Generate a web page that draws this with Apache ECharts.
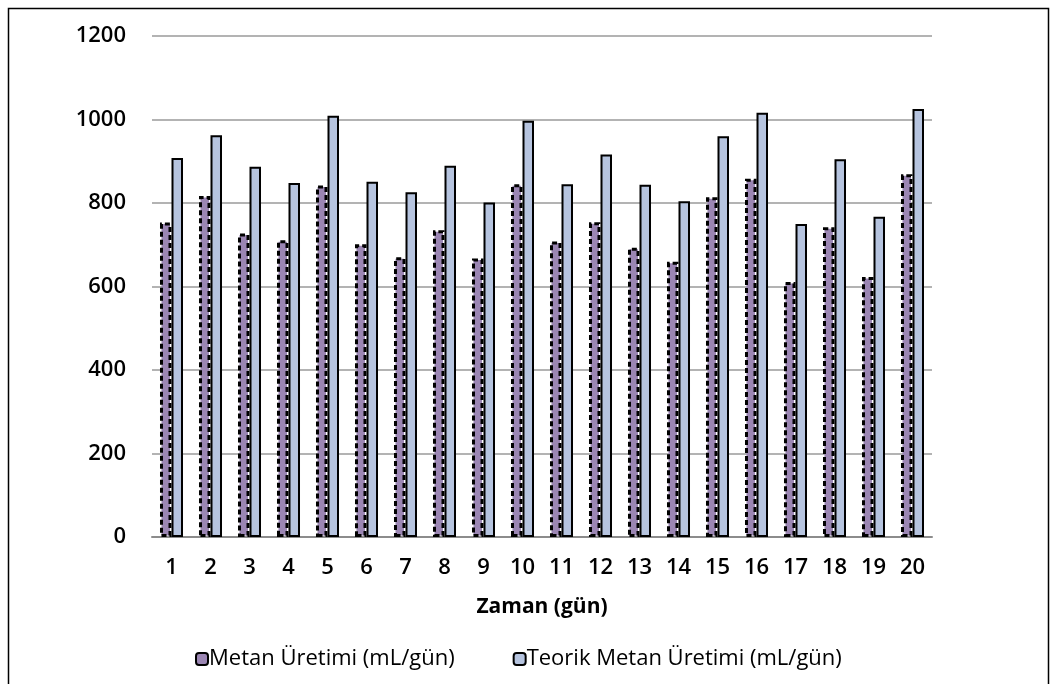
<!DOCTYPE html>
<html>
<head>
<meta charset="utf-8">
<script src="https://cdn.jsdelivr.net/npm/echarts@6/dist/echarts.min.js"></script>
<style>
  html, body { margin: 0; padding: 0; background: #fff; }
  #chart { width: 1057px; height: 684px; }
</style>
</head>
<body>
<div id="chart"></div>
<script>
// Daily methane production vs. theoretical production (mL/gün)
const days = ['1','2','3','4','5','6','7','8','9','10','11','12','13','14','15','16','17','18','19','20'];
const metanUretimi = [753, 817, 727, 711, 842, 701, 670, 735, 667, 845, 708, 754, 693, 659, 814, 858, 611, 742, 623, 869];
const teorikMetanUretimi = [908, 962, 887, 848, 1009, 851, 826, 889, 801, 997, 845, 916, 844, 804, 960, 1016, 750, 905, 767, 1025];
const yTicks = [0, 200, 400, 600, 800, 1000, 1200];

const FONT = 'Open Sans';

const chart = echarts.init(document.getElementById('chart'), null, { renderer: 'canvas' });
chart.setOption({
  animation: false,
  backgroundColor: '#ffffff',
  textStyle: { fontFamily: FONT, color: '#000' },
  graphic: [{
    type: 'rect',
    shape: { x: 8.5, y: 8.5, width: 1040, height: 700 },
    style: { fill: 'none', stroke: '#000', lineWidth: 1.5 },
    silent: true
  }],
  grid: { left: 152, right: 125, top: 36, bottom: 147, containLabel: false },
  legend: {
    top: 648,
    left: 195,
    padding: 0,
    itemGap: 58,
    itemWidth: 12,
    itemHeight: 12,
    textStyle: { fontFamily: FONT, fontSize: 22, color: '#000', padding: [0, 0, 0, -4] },
    data: ['Metan Üretimi (mL/gün)', 'Teorik Metan Üretimi (mL/gün)']
  },
  xAxis: {
    type: 'category',
    data: days,
    name: 'Zaman (gün)',
    nameLocation: 'middle',
    nameGap: 60,
    nameTextStyle: { fontFamily: FONT, fontSize: 21, fontWeight: 'bold', color: '#000' },
    axisLine: { lineStyle: { color: '#8c8c8c', width: 2 } },
    axisTick: { show: false },
    axisLabel: { fontFamily: FONT, fontSize: 22, fontWeight: 600, color: '#000', margin: 20 }
  },
  yAxis: {
    type: 'value',
    min: 0,
    max: 1200,
    interval: 200,
    axisLine: { show: false },
    axisTick: { show: false },
    splitLine: { lineStyle: { color: '#9a9a9a', width: 1.5 } },
    axisLabel: {
      fontFamily: FONT, fontSize: 22, fontWeight: 600, color: '#000', margin: 26,
      formatter: v => yTicks.includes(v) ? String(v) : ''
    }
  },
  series: [
    {
      name: 'Metan Üretimi (mL/gün)',
      type: 'bar',
      data: metanUretimi,
      barGap: '0%',
      barCategoryGap: '41%',
      itemStyle: {
        color: '#9b86b3',
        borderColor: '#000',
        borderWidth: 3,
        borderType: [5, 3]
      }
    },
    {
      name: 'Teorik Metan Üretimi (mL/gün)',
      type: 'bar',
      data: teorikMetanUretimi,
      barGap: '0%',
      barCategoryGap: '41%',
      itemStyle: {
        color: '#b6c4df',
        borderColor: '#000',
        borderWidth: 2
      }
    }
  ]
});
</script>
</body>
</html>
